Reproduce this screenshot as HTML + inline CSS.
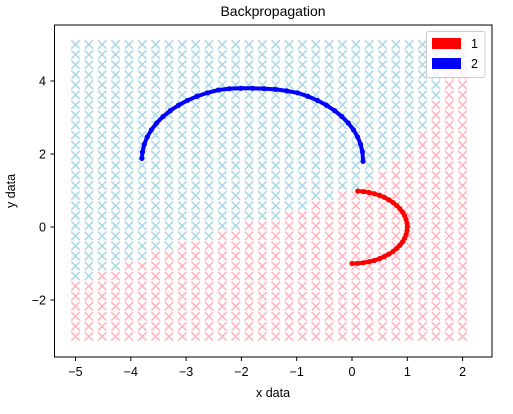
<!DOCTYPE html>
<html><head><meta charset="utf-8"><style>
body{margin:0;background:#fff;}
svg{display:block;font-family:"Liberation Sans","DejaVu Sans",sans-serif;}
</style></head><body>
<svg id="chart" width="513" height="414" viewBox="0 0 513 414" xmlns="http://www.w3.org/2000/svg">
<rect x="0" y="0" width="513" height="414" fill="#fff"/>
<text x="273" y="16" font-size="14" text-anchor="middle" fill="#000">Backpropagation</text>
<g id="grid"></g>
<g id="series"></g>
<rect x="54.5" y="25" width="437.5" height="332" fill="none" stroke="#000" stroke-width="1"/>
<g id="ticks"></g>
<text x="273" y="397" font-size="12.5" text-anchor="middle">x data</text>
<text x="15" y="191" font-size="12.5" text-anchor="middle" transform="rotate(-90 15 191)">y data</text>
<g>
<rect x="426.5" y="31.5" width="58.5" height="46" rx="2" fill="#fff" fill-opacity="0.8" stroke="#ccc"/>
<rect x="432" y="38" width="29" height="11" fill="#ff0000"/>
<text x="471" y="48" font-size="12.5">1</text>
<rect x="432" y="58" width="29" height="11" fill="#0000ff"/>
<text x="471" y="68" font-size="12.5">2</text>
</g>
</svg>
<script>
const xTicks=[-5,-4,-3,-2,-1,0,1,2];
const yTicks=[-2,0,2,4];
const gridCols=30, gridRows=30;
const gridXMin=-5, gridXMax=2, gridYMin=-3, gridYMax=5;
// number of red (class 1) rows from the bottom, per column
const redRowsPerCol=[6,6,7,7,8,8,9,9,10,10,10,11,11,12,12,12,13,13,14,14,15,15,16,17,18,19,21,24,27,28];
const redX=[0.105,0.208,0.309,0.407,0.5,0.588,0.669,0.743,0.809,0.866,0.914,0.951,0.978,0.995,1,0.995,0.978,0.951,0.914,0.866,0.809,0.743,0.669,0.588,0.5,0.407,0.309,0.208,0.105,0];
const redY=[0.985,0.97,0.945,0.91,0.866,0.809,0.743,0.669,0.588,0.5,0.407,0.309,0.208,0.105,0,-0.105,-0.208,-0.309,-0.407,-0.5,-0.588,-0.669,-0.743,-0.809,-0.866,-0.914,-0.951,-0.978,-0.995,-1];
const blueX=[-3.8,-3.789,-3.756,-3.702,-3.627,-3.532,-3.418,-3.286,-3.138,-2.976,-2.8,-2.613,-2.418,-2.216,-2.009,-1.8,-1.591,-1.384,-1.182,-0.987,-0.8,-0.624,-0.462,-0.314,-0.182,-0.068,0.027,0.102,0.156,0.189,0.2];
const blueY=[1.88,2.059,2.266,2.468,2.663,2.85,3.026,3.188,3.336,3.468,3.582,3.677,3.752,3.79,3.8,3.8,3.79,3.77,3.73,3.677,3.582,3.468,3.336,3.188,3.026,2.85,2.663,2.468,2.266,2.059,1.8];

const NS="http://www.w3.org/2000/svg";
function sx(v){return 75.5+(v+5)*55.3;}
function sy(v){return 227-v*36.5;}
function mk(tag,attrs,parent){const e=document.createElementNS(NS,tag);for(const k in attrs)e.setAttribute(k,attrs[k]);parent.appendChild(e);return e;}

const grid=document.getElementById('grid');
for(let i=0;i<gridCols;i++){
  const xv=gridXMin+i*(gridXMax-gridXMin)/(gridCols-1);
  for(let j=0;j<gridRows;j++){
    const yv=gridYMin+j*(gridYMax-gridYMin)/(gridRows-1);
    const red=j<redRowsPerCol[i];
    const cx=sx(xv), cy=sy(yv), h=4.2;
    const p=mk('path',{d:`M${cx-h},${cy-h}L${cx+h},${cy+h}M${cx-h},${cy+h}L${cx+h},${cy-h}`,stroke:red?'#ffb6c1':'#add8e6','stroke-width':1.6,fill:'none'},grid);
    
    
  }
}
const series=document.getElementById('series');
function drawSeries(xs,ys,color,name){
  const g=mk('g',{},series);
  
  
  const pts=xs.map((x,k)=>sx(x)+','+sy(ys[k])).join(' ');
  mk('polyline',{points:pts,fill:'none',stroke:color,'stroke-width':4,'stroke-linecap':'round','stroke-linejoin':'round'},g);
  xs.forEach((x,k)=>{
    const c=mk('circle',{cx:sx(x),cy:sy(ys[k]),r:2.6,fill:color},g);
    
    
  });
}
drawSeries(blueX,blueY,'#0000ff','series-2');
drawSeries(redX,redY,'#ff0000','series-1');

const ticks=document.getElementById('ticks');
xTicks.forEach(t=>{
  const x=sx(t);
  const l=mk('line',{x1:x,y1:357,x2:x,y2:361,stroke:'#000'},ticks);
  
  
  const tx=mk('text',{x:x,y:376,'font-size':12.5,'text-anchor':'middle'},ticks);
  tx.textContent=(t<0?'\u2212'+(-t):String(t));
  
  
});
yTicks.forEach(t=>{
  const y=sy(t);
  const l=mk('line',{x1:50.5,y1:y,x2:54.5,y2:y,stroke:'#000'},ticks);
  
  
  const tx=mk('text',{x:46,y:y+4.5,'font-size':12.5,'text-anchor':'end'},ticks);
  tx.textContent=(t<0?'\u2212'+(-t):String(t));
  
  
});
</script>
</body></html>
